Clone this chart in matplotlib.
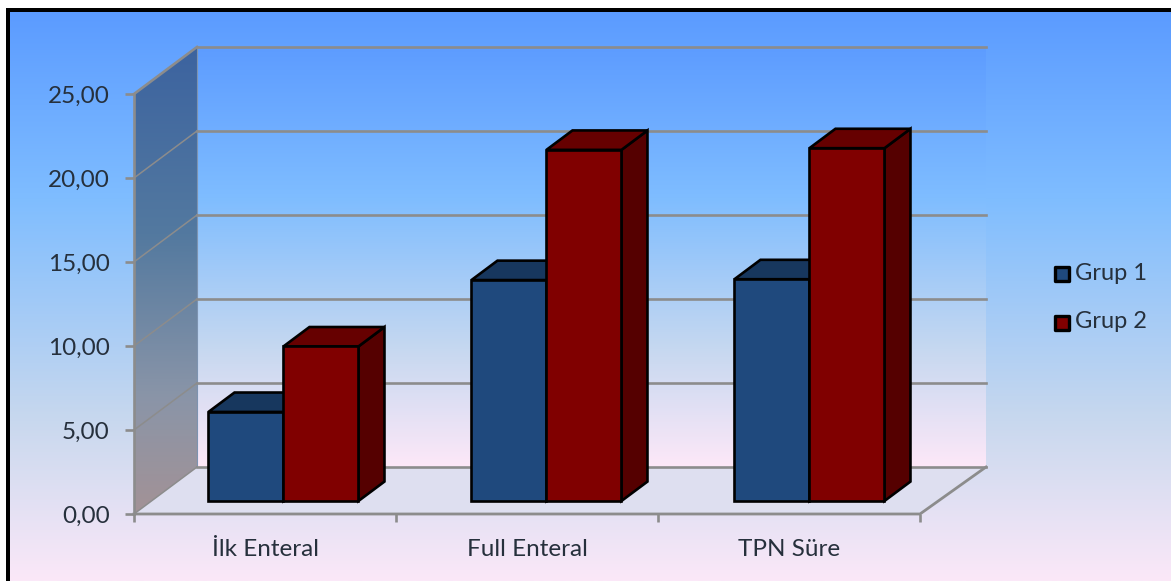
import numpy as np
import matplotlib
matplotlib.use("Agg")
import matplotlib.pyplot as plt
from matplotlib.colors import LinearSegmentedColormap
from matplotlib.patches import Polygon, Rectangle

categories = ["İlk Enteral", "Full Enteral", "TPN Süre"]
grup1 = [5.3, 13.15, 13.2]
grup2 = [9.2, 20.9, 21.0]
y_ticks = [0, 5, 10, 15, 20, 25]
y_labels = ["0,00", "5,00", "10,00", "15,00", "20,00", "25,00"]

W, H = 1171, 581
plt.rcParams["font.family"] = ["Lato", "DejaVu Sans"]
TEXT = "#26303c"
GRID = "#8c8c8c"

fig = plt.figure(figsize=(W / 100, H / 100), dpi=100, facecolor="white")

# Pixel canvas for the panel background and frame
bg = fig.add_axes([0, 0, 1, 1], zorder=0)
bg.axis("off")

sky = LinearSegmentedColormap.from_list(
    "sky",
    [(0, "#5b9bff"), (0.33, "#7fbdff"), (0.72, "#c8d8ee"), (1, "#fbe8f8")],
)
ramp = np.linspace(0, 1, 256)[:, None]
bg.imshow(ramp, cmap=sky, extent=(8, W, H, 10), aspect="auto", zorder=1)
bg.set_xlim(0, W)
bg.set_ylim(H, 0)
# The frame shows on the left and top edges only
bg.add_patch(Rectangle((6, 8), 4, H - 8, fc="black", ec="none", zorder=5))
bg.add_patch(Rectangle((6, 8), W - 6, 3.6, fc="black", ec="none", zorder=5))

# Front plane of the 3-D box: category units across, values up
x0, x1, y0, y1 = 134, 920, 514, 94
ax = fig.add_axes([x0 / W, 1 - y0 / H, (x1 - x0) / W, (y0 - y1) / H], zorder=2)
ax.patch.set_alpha(0)
for s in ax.spines.values():
    s.set_visible(False)

CAT_PX = (x1 - x0) / 3
DX = 63 / CAT_PX            # full box depth, in category units
DY = 47 / ((y0 - y1) / 25)  # full box depth, in value units
BACK_R = 3 + 3 / CAT_PX     # right end of the back wall, before the depth shift


def at(x, y, d=0.0):
    return (x + d * DX, y + d * DY)


def poly(points, **kw):
    p = Polygon(points, closed=True, clip_on=False, **kw)
    ax.add_patch(p)
    return p


def gradient(extent, cmap, clip):
    im = ax.imshow(ramp, cmap=cmap, extent=extent, aspect="auto", zorder=1)
    im.set_clip_box(fig.bbox)
    im.set_clip_path(clip)


# Back wall
wall_cmap = LinearSegmentedColormap.from_list(
    "wall", [(0, "#5d9cff"), (0.36, "#7fbdff"), (0.72, "#c6d8f0"), (1, "#fde8f8")]
)
back = poly([at(0, 0, 1), at(BACK_R, 0, 1), at(BACK_R, 25, 1), at(0, 25, 1)], fc="none", ec="none")
gradient((DX, BACK_R + DX, DY, 25 + DY), wall_cmap, back)

# Side wall, a darker shade of the same ramp
side_cmap = LinearSegmentedColormap.from_list(
    "side", [(0, "#3c63a0"), (0.4, "#53799f"), (0.75, "#8a95a8"), (1, "#a39296")]
)
side = poly([at(0, 0), at(0, 0, 1), at(0, 25, 1), at(0, 25)], fc="none", ec="none")
gradient((0, DX, 0, 25 + DY), side_cmap, side)

# Floor
poly([at(0, 0), at(3, 0), at(BACK_R, 0, 1), at(0, 0, 1)], fc="#dedff0", ec="none", zorder=1.5)

# Gridlines along side wall and back wall
for v in y_ticks:
    ax.plot(*zip(at(0, v, 1), at(BACK_R, v, 1)), color=GRID, lw=1.9, zorder=2, clip_on=False)
    ax.plot(*zip(at(0, v), at(0, v, 1)), color=GRID, lw=1.9 if v == 25 else 1.1,
            zorder=2, clip_on=False)
ax.plot(*zip(at(0, 0), at(3, 0), at(BACK_R, 0, 1)), color=GRID, lw=2.0, zorder=2.2, clip_on=False)
ax.plot(*zip(at(0, 0), at(0, 25)), color=GRID, lw=1.9, zorder=2.2, clip_on=False)
ax.plot(*zip(at(0, 0, 1), at(0, 25, 1)), color="#7d93b0", lw=0.8, zorder=1.9, clip_on=False)

# Bars, drawn as three faces each
BAR_W = 75 / CAT_PX
SLOT = 263 / CAT_PX
FIRST = 0.5 + 1 / CAT_PX
D0, D1 = 0.277, 0.69
EDGE = dict(ec="black", lw=1.9, joinstyle="miter")


def bar3d(left, value, front, top, side_c, z):
    r = left + BAR_W
    poly([at(r, 0, D0), at(r, 0, D1), at(r, value, D1), at(r, value, D0)], fc=side_c, zorder=z, **EDGE)
    poly([at(left, value, D0), at(r, value, D0), at(r, value, D1), at(left, value, D1)], fc=top, zorder=z, **EDGE)
    poly([at(left, 0, D0), at(r, 0, D0), at(r, value, D0), at(left, value, D0)], fc=front, zorder=z + 0.1, **EDGE)


for i, (a, b) in enumerate(zip(grup1, grup2)):
    c = FIRST + i * SLOT
    bar3d(c - BAR_W, a, "#1f497d", "#17375e", "#17375e", 3 + i)
    bar3d(c, b, "#800000", "#660000", "#550000", 3.3 + i)

# Axis ticks and labels
ax.set_xlim(0, 3)
ax.set_ylim(0, 25)
ax.set_xticks([0, 1, 2, 3])
ax.set_xticklabels([])
ax.set_yticks(y_ticks)
ax.set_yticklabels(y_labels)
ax.tick_params(axis="y", length=6.5, width=1.9, color=GRID, labelsize=17.5, labelcolor=TEXT, pad=11)
ax.tick_params(axis="x", length=5.8, width=1.9, color=GRID)
ax.set_xticks([0.5, 1.5, 2.5], labels=categories, minor=True)
ax.tick_params(axis="x", which="minor", length=0, labelsize=17.5, labelcolor=TEXT, pad=18)

# Legend
for name, colour, py in [("Grup 1", "#1f497d", 273.5), ("Grup 2", "#800000", 322.5)]:
    bg.add_patch(Rectangle((1055, py - 7), 14, 14, fc=colour, ec="black", lw=2.4, zorder=6,
                           joinstyle="round"))
    bg.text(1075, py - 0.5, name, fontsize=17, color=TEXT, va="center", ha="left", zorder=6)

fig.savefig("out.png", dpi=100)
